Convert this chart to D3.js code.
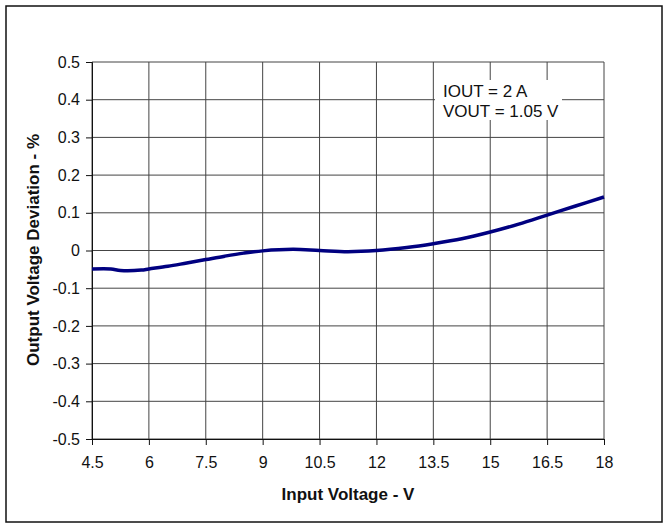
<!DOCTYPE html>
<html><head><meta charset="utf-8">
<script src="https://cdn.jsdelivr.net/npm/d3@7"></script>
<style>body{margin:0;background:#fff}svg{display:block}text{font-family:"Liberation Sans",Arial,sans-serif}</style>
</head><body><svg id="c" width="670" height="528"></svg>
<script>
const inputVoltage = [4.5, 5, 5.25, 5.8, 6, 6.5, 7, 7.5, 8, 8.5, 9, 9.8, 10.5, 11.25, 12, 12.8, 13.5, 14.25, 15, 15.75, 16.5, 17.25, 18];
const deviation = [-0.049, -0.049, -0.053, -0.052, -0.049, -0.042, -0.033, -0.024, -0.015, -0.007, -0.001, 0.003, 0.000, -0.003, 0.000, 0.008, 0.018, 0.031, 0.049, 0.070, 0.094, 0.118, 0.142];
const xTicks = [4.5, 6, 7.5, 9, 10.5, 12, 13.5, 15, 16.5, 18];
const yTicks = [-0.5, -0.4, -0.3, -0.2, -0.1, 0, 0.1, 0.2, 0.3, 0.4, 0.5];
const annotation = ["IOUT = 2 A", "VOUT = 1.05 V"];

const svg = d3.select("#c");
const L = 92, R = 604, T = 62, B = 439;
const x = d3.scaleLinear().domain([4.5, 18]).range([L, R]);
const y = d3.scaleLinear().domain([-0.5, 0.5]).range([B, T]);

svg.append("rect").attr("x", 6).attr("y", 6).attr("width", 656).attr("height", 516)
  .attr("fill", "#fff").attr("stroke", "#111").attr("stroke-width", 1.5);

const g = svg.append("g");
g.selectAll(".vg").data(xTicks).join("line")
  .attr("x1", d => x(d)).attr("x2", d => x(d)).attr("y1", T).attr("y2", B)
  .attr("stroke", "#444").attr("stroke-width", 1);
g.selectAll(".hg").data(yTicks).join("line")
  .attr("y1", d => y(d)).attr("y2", d => y(d)).attr("x1", L).attr("x2", R)
  .attr("stroke", "#444").attr("stroke-width", 1);

const fmt = d => String(+d.toFixed(2));
const xAxis = d3.axisBottom(x).tickValues(xTicks).tickFormat(fmt).tickSize(6).tickPadding(12);
const yAxis = d3.axisLeft(y).tickValues(yTicks).tickFormat(fmt).tickSize(6).tickPadding(6);
const gx = svg.append("g").attr("transform", `translate(0,${B})`).call(xAxis);
const gy = svg.append("g").attr("transform", `translate(${L},0)`).call(yAxis);
[gx, gy].forEach(a => {
  a.select(".domain").attr("stroke", "#111").attr("stroke-width", 1);
  a.selectAll(".tick line").attr("stroke", "#111");
  a.selectAll("text").attr("font-size", 16).attr("fill", "#111")
   .style("font-family", '"Liberation Sans", Arial, sans-serif');
});

svg.append("rect").attr("x", 435).attr("y", 80).attr("width", 127).attr("height", 40).attr("fill", "#fff");
svg.append("g").selectAll("text").data(annotation).join("text")
  .attr("x", 443).attr("y", (d, i) => 97 + i * 20)
  .attr("font-size", 17).attr("fill", "#111").text(d => d);

const pts = inputVoltage.map((v, i) => [v, deviation[i]]);
svg.append("path").datum(pts)
  .attr("d", d3.line().x(d => x(d[0])).y(d => y(d[1])).curve(d3.curveCatmullRom))
  .attr("fill", "none").attr("stroke", "#000080").attr("stroke-width", 3.5)
  .attr("stroke-linejoin", "round");

svg.append("text").attr("x", 348).attr("y", 500).attr("text-anchor", "middle")
  .attr("font-size", 17).attr("font-weight", "bold").attr("fill", "#111").text("Input Voltage - V");
svg.append("text").attr("transform", "translate(39,250) rotate(-90)").attr("text-anchor", "middle")
  .attr("font-size", 17).attr("font-weight", "bold").attr("fill", "#111").text("Output Voltage Deviation - %");
</script></body></html>
